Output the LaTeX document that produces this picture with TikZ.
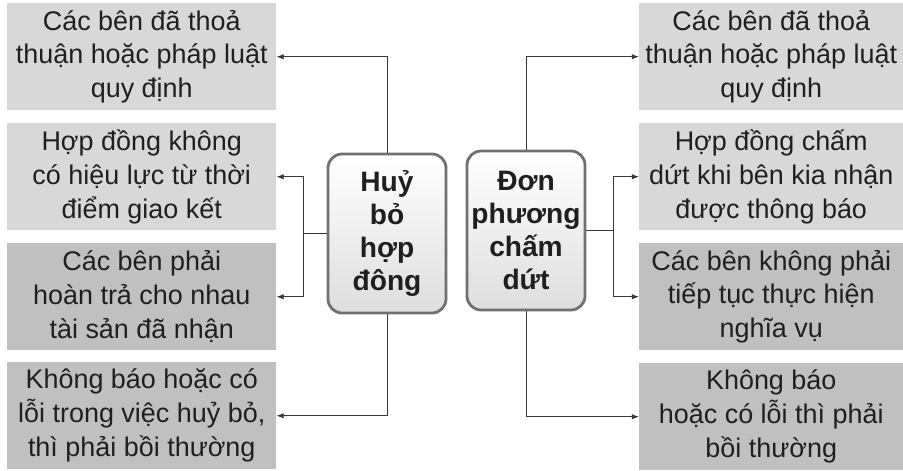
\documentclass[tikz,border=0pt]{standalone}
\usepackage{fontspec}
\setmainfont{Liberation Sans}
\usetikzlibrary{arrows.meta}
\definecolor{boxlight}{RGB}{216,216,216}
\definecolor{boxdark}{RGB}{192,192,192}
\definecolor{rimgray}{RGB}{112,112,112}
\definecolor{linegray}{RGB}{55,55,55}

\begin{document}
\begin{tikzpicture}[x=0.03cm,y=-0.03cm,
  infobox/.style={anchor=north west,minimum width=8.07cm,minimum height=3.21cm,inner sep=0pt,
    align=center,text=black!88,font=\fontsize{23}{29}\selectfont},
  headbox/.style={draw=rimgray,line width=2.4pt,rounded corners=12pt,top color=white,bottom color=black!13,
    minimum width=3.54cm,minimum height=4.77cm,inner sep=2pt,align=center,text=black!88,
    font=\fontsize{24}{28}\selectfont\bfseries},
  conn/.style={linegray,line width=0.8pt},
  arr/.style={conn,-{Latex[length=6pt,width=4.5pt]}}]
  \useasboundingbox (0,0) rectangle (903,470);

  % Left column
  \foreach \n/\y/\col/\txt in {
      1/3/boxlight/{Các bên đã thoả\\thuận hoặc pháp luật\\quy định},
      2/123/boxlight/{Hợp đồng không\\có hiệu lực từ thời\\điểm giao kết},
      3/243/boxdark/{Các bên phải\\hoàn trả cho nhau\\tài sản đã nhận},
      4/362/boxdark/{Không báo hoặc có\\lỗi trong việc huỷ bỏ,\\thì phải bồi thường}} {
    \node[infobox,fill=\col] (L\n) at (7,\y) {\txt};
  }

  % Right column
  \foreach \n/\y/\col/\txt in {
      1/3/boxlight/{Các bên đã thoả\\thuận hoặc pháp luật\\quy định},
      2/123/boxlight/{Hợp đồng chấm\\dứt khi bên kia nhận\\được thông báo},
      3/243/boxdark/{Các bên không phải\\tiếp tục thực hiện\\nghĩa vụ},
      4/363/boxdark/{Không báo\\hoặc có lỗi thì phải\\bồi thường}} {
    \node[infobox,fill=\col,minimum width=7.92cm] (R\n) at (639,\y) {\txt};
  }

  % Centre boxes
  \node[headbox] (huy) at (387,233.5) {Huỷ\\bỏ\\hợp\\đông};
  \node[headbox] (don) at (526,230.5) {Đơn\\phương\\chấm\\dứt};

  % Left connectors
  \coordinate (jl) at (303,233.5);
  \draw[arr] (huy.north) |- (L1.east);
  \draw[conn] (huy.west) -- (jl);
  \draw[arr] (jl) |- (L2.east);
  \draw[arr] (jl) |- (L3.east);
  \draw[arr] (huy.south) |- (L4.east);

  % Right connectors
  \coordinate (jr) at (613,230.5);
  \draw[arr] (don.north) |- (R1.west);
  \draw[conn] (don.east) -- (jr);
  \draw[arr] (jr) |- (R2.west);
  \draw[arr] (jr) |- (R3.west);
  \draw[arr] (don.south) |- (R4.west);
\end{tikzpicture}
\end{document}
